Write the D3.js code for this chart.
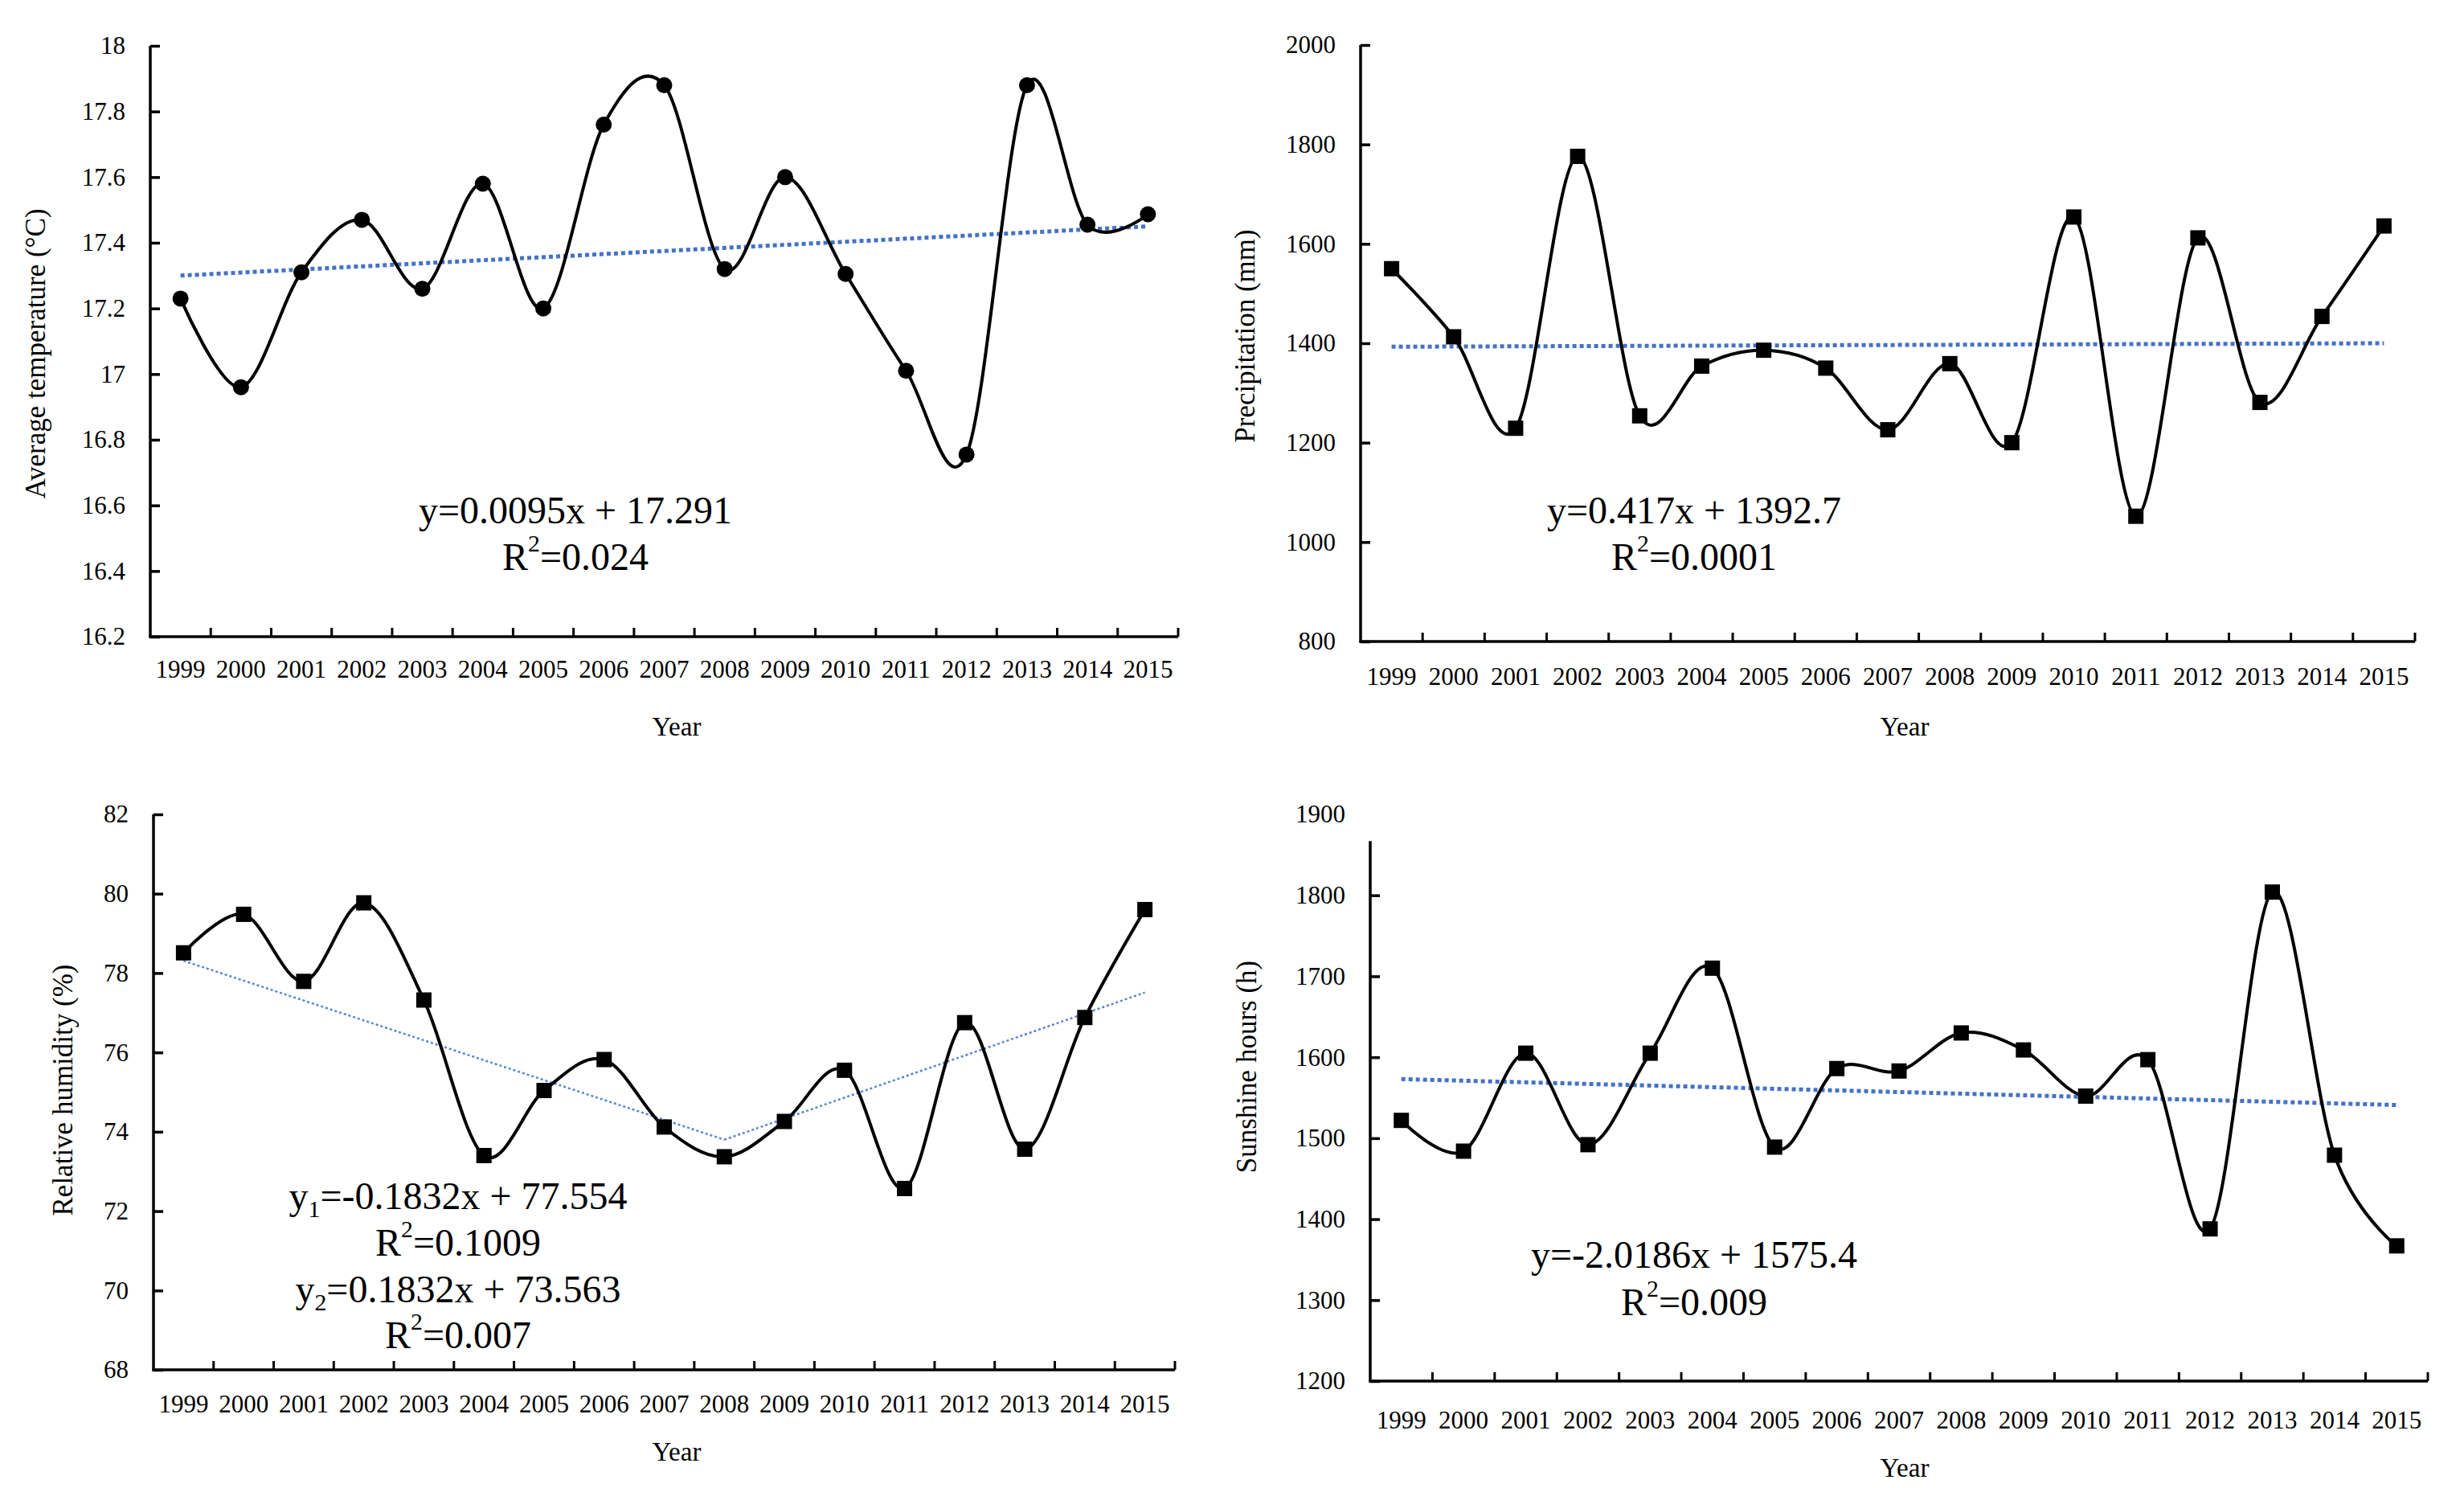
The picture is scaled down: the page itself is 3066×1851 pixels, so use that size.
<!DOCTYPE html>
<html>
<head>
<meta charset="utf-8">
<script src="https://cdn.jsdelivr.net/npm/d3@7"></script>
<style>
  body { margin: 0; background: #fff; }
  svg { display: block; }
  text { font-family: "Liberation Serif", "Times New Roman", serif; fill: #000; }
</style>
</head>
<body>
<div id="chart"></div>
<script>
// ---- data ----
const years = ["1999", "2000", "2001", "2002", "2003", "2004", "2005", "2006", "2007",
               "2008", "2009", "2010", "2011", "2012", "2013", "2014", "2015"];

const temperature = [17.23, 16.96, 17.31, 17.47, 17.26, 17.58, 17.20, 17.76, 17.88,
                     17.32, 17.60, 17.305, 17.01, 16.755, 17.88, 17.455, 17.487];
const precipitation = [1550, 1413, 1229, 1776, 1254, 1354, 1386, 1350, 1226,
                       1359, 1200, 1654, 1052, 1612, 1281, 1454, 1636];
const humidity = [78.51, 79.48, 77.79, 79.77, 77.32, 73.40, 75.04, 75.82, 74.12,
                  73.37, 74.26, 75.55, 72.57, 76.75, 73.56, 76.88, 79.60];
const sunshine = [1522, 1484, 1605, 1492, 1605, 1710, 1489, 1586, 1583,
                  1630, 1609, 1552, 1597, 1388, 1804, 1479, 1367];

const tempTicks = [16.2, 16.4, 16.6, 16.8, 17, 17.2, 17.4, 17.6, 17.8, 18];
const precipTicks = [800, 1000, 1200, 1400, 1600, 1800, 2000];
const humidityTicks = [68, 70, 72, 74, 76, 78, 80, 82];
const sunshineTicks = [1200, 1300, 1400, 1500, 1600, 1700, 1800, 1900];

// trend lines (end points)
const tempTrend = [{year: "1999", value: 17.30}, {year: "2015", value: 17.45}];
const precipTrend = [{year: "1999", value: 1393}, {year: "2015", value: 1400}];
const humidityTrend1 = [{year: "1999", value: 78.31}, {year: "2008", value: 73.80}];
const humidityTrend2 = [{year: "2008", value: 73.80}, {year: "2015", value: 77.51}];
const sunshineTrend = [{year: "1999", value: 1573}, {year: "2015", value: 1541}];

// equation labels (^ = superscript, _ = subscript, next char)
const tempEquation = ["y=0.0095x + 17.291", "R^2=0.024"];
const precipEquation = ["y=0.417x + 1392.7", "R^2=0.0001"];
const humidityEquation = ["y_1=-0.1832x + 77.554", "R^2=0.1009", "y_2=0.1832x + 73.563", "R^2=0.007"];
const sunshineEquation = ["y=-2.0186x + 1575.4", "R^2=0.009"];

// ---- layout ----
const W = 3066, H = 1851;

const panels = [
  { values: temperature, ticks: tempTicks, domain: [16.2, 18], marker: "circle",
    title: "Average temperature (°C)", trends: [tempTrend], trendW: 5, trendDash: "5 4", trendColor: "#4472C4",
    eq: tempEquation, left: 187, right: 1466, top: 57, bottom: 792, axisTop: 18,
    titleX: 44, titleY: 440, yearX: 842, yearY: 904, pad: 29, eqX: 716, eqY: [634, 692] },
  { values: precipitation, ticks: precipTicks, domain: [800, 2000], marker: "square",
    title: "Precipitation (mm)", trends: [precipTrend], trendW: 5, trendDash: "5 4", trendColor: "#4472C4",
    eq: precipEquation, left: 1693, right: 3005, top: 56, bottom: 798, axisTop: 2000,
    titleX: 1549, titleY: 418, yearX: 2370, yearY: 904, pad: 32, eqX: 2108, eqY: [634, 692] },
  { values: humidity, ticks: humidityTicks, domain: [68, 82], marker: "square",
    title: "Relative humidity (%)", trends: [humidityTrend1, humidityTrend2], trendW: 2.5, trendDash: "3 3", trendColor: "#5B85CF",
    eq: humidityEquation, left: 191, right: 1462, top: 1013, bottom: 1704, axisTop: 82,
    titleX: 78, titleY: 1356, yearX: 842, yearY: 1806, pad: 31, eqX: 570, eqY: [1487, 1545, 1603, 1660] },
  { values: sunshine, ticks: sunshineTicks, domain: [1200, 1900], marker: "square",
    title: "Sunshine hours (h)", trends: [sunshineTrend], trendW: 5, trendDash: "5 4", trendColor: "#4472C4",
    eq: sunshineEquation, left: 1705, right: 3021, top: 1013, bottom: 1718, axisTop: 1867,
    titleX: 1551, titleY: 1327, yearX: 2370, yearY: 1826, pad: 37, eqX: 2108, eqY: [1560, 1619] }
];

const svg = d3.select("#chart").append("svg")
  .attr("width", W)
  .attr("height", H);

svg.append("rect").attr("width", W).attr("height", H).attr("fill", "#fff");

function richText(g, x, y, str, size) {
  const t = g.append("text")
    .attr("x", x).attr("y", y)
    .attr("text-anchor", "middle")
    .attr("dominant-baseline", "central")
    .style("font-size", size + "px");
  const parts = str.split(/([\^_].)/);
  parts.forEach(function(p) {
    if (!p) return;
    if (p[0] === "^" || p[0] === "_") {
      t.append("tspan")
        .attr("baseline-shift", p[0] === "^" ? "super" : "sub")
        .style("font-size", (size * 0.62) + "px")
        .text(p[1]);
    } else {
      t.append("tspan").text(p);
    }
  });
}

panels.forEach(function(p) {
  const g = svg.append("g");

  const x = d3.scaleBand()
    .domain(years)
    .range([p.left, p.right])
    .padding(0);
  const bw = x.bandwidth();

  const y = d3.scaleLinear()
    .domain(p.domain)
    .range([p.bottom, p.top]);

  // Y axis: ticks pointing inward, labels on the left
  const yAxis = g.append("g")
    .attr("transform", "translate(" + p.left + ",0)")
    .call(d3.axisLeft(y)
      .tickValues(p.ticks)
      .tickFormat(d3.format("~g"))
      .tickSizeInner(-12)
      .tickSizeOuter(0)
      .tickPadding(31));
  yAxis.select(".domain").remove();
  yAxis.selectAll(".tick line")
    .attr("stroke", "#000")
    .attr("stroke-width", 3.5)
    .attr("display", function(d) { return d > p.axisTop ? "none" : null; });
  yAxis.selectAll(".tick text").style("font-size", "31px");
  yAxis.attr("font-family", null).attr("font-size", null);

  g.append("line")
    .attr("x1", p.left).attr("x2", p.left)
    .attr("y1", y(p.axisTop)).attr("y2", p.bottom + 1.5)
    .attr("stroke", "#000").attr("stroke-width", 3.5);

  // X axis: labels at band centres, ticks at band boundaries
  const xAxis = g.append("g")
    .attr("transform", "translate(0," + p.bottom + ")")
    .call(d3.axisBottom(x).tickSize(0).tickPadding(p.pad));
  xAxis.select(".domain").remove();
  xAxis.selectAll(".tick text").style("font-size", "31px");
  xAxis.attr("font-family", null).attr("font-size", null);

  g.append("line")
    .attr("x1", p.left - 1.5).attr("x2", p.right)
    .attr("y1", p.bottom).attr("y2", p.bottom)
    .attr("stroke", "#000").attr("stroke-width", 3.5);

  g.selectAll(".xtick")
    .data(years)
    .enter().append("line")
    .attr("x1", function(d) { return x(d) + bw; })
    .attr("x2", function(d) { return x(d) + bw; })
    .attr("y1", p.bottom)
    .attr("y2", p.bottom - 11)
    .attr("stroke", "#000").attr("stroke-width", 3);

  // axis titles
  g.append("text")
    .attr("transform", "translate(" + p.titleX + "," + p.titleY + ") rotate(-90)")
    .attr("text-anchor", "middle")
    .attr("dominant-baseline", "central")
    .style("font-size", "35px")
    .text(p.title);

  g.append("text")
    .attr("x", p.yearX).attr("y", p.yearY)
    .attr("text-anchor", "middle")
    .attr("dominant-baseline", "central")
    .style("font-size", "33px")
    .text("Year");

  // trend lines
  p.trends.forEach(function(tr) {
    g.append("path")
      .datum(tr)
      .attr("fill", "none")
      .attr("stroke", p.trendColor)
      .attr("stroke-width", p.trendW)
      .attr("stroke-dasharray", p.trendDash)
      .attr("d", d3.line()
        .x(function(d) { return x(d.year) + bw / 2; })
        .y(function(d) { return y(d.value); }));
  });

  // smoothed data line
  const pts = years.map(function(yr, i) { return {year: yr, value: p.values[i]}; });
  g.append("path")
    .datum(pts)
    .attr("fill", "none")
    .attr("stroke", "#000")
    .attr("stroke-width", 4)
    .attr("d", d3.line()
      .x(function(d) { return x(d.year) + bw / 2; })
      .y(function(d) { return y(d.value); })
      .curve(d3.curveCardinal.tension(0)));

  // markers
  if (p.marker === "circle") {
    g.selectAll(".mk").data(pts).enter().append("circle")
      .attr("cx", function(d) { return x(d.year) + bw / 2; })
      .attr("cy", function(d) { return y(d.value); })
      .attr("r", 10)
      .attr("fill", "#000");
  } else {
    g.selectAll(".mk").data(pts).enter().append("rect")
      .attr("x", function(d) { return x(d.year) + bw / 2 - 9.5; })
      .attr("y", function(d) { return y(d.value) - 9.5; })
      .attr("width", 19).attr("height", 19)
      .attr("fill", "#000");
  }

  // equations
  p.eq.forEach(function(line, i) {
    richText(g, p.eqX, p.eqY[i], line, 48);
  });
});
</script>
</body>
</html>
